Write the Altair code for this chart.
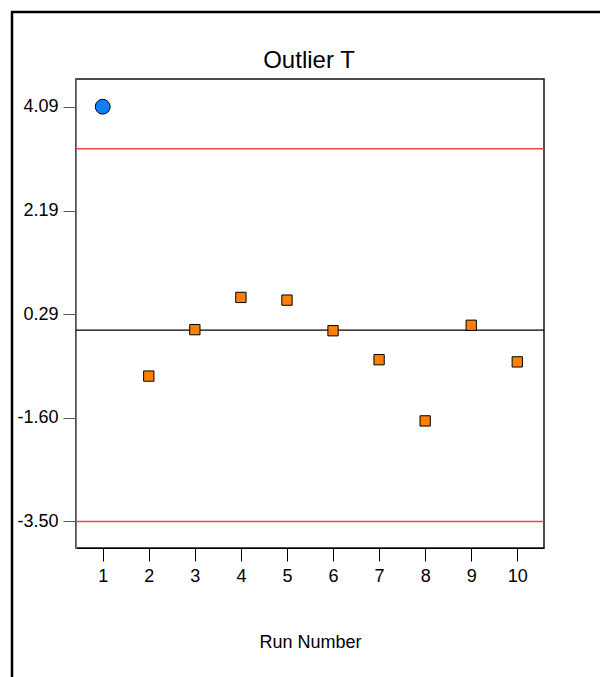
import altair as alt
import pandas as pd

runs = [1, 2, 3, 4, 5, 6, 7, 8, 9, 10]
outlier_t = [4.09, -0.84, 0.01, 0.60, 0.55, -0.01, -0.54, -1.66, 0.09, -0.58]
kind = ["outlier", "normal", "normal", "normal", "normal", "normal", "normal", "normal", "normal", "normal"]
y_ticks = [4.09, 2.19, 0.29, -1.60, -3.50]
x_ticks = [1, 2, 3, 4, 5, 6, 7, 8, 9, 10]
limits = [3.32, -3.50]
center = [0.0]
title_text = ["Outlier T"]

FONT = "Liberation Sans"

df = pd.DataFrame({"run": runs, "t": outlier_t, "kind": kind})
lim_df = pd.DataFrame({"v": limits})
cen_df = pd.DataFrame({"v": center})

xscale = alt.Scale(domain=[0.42, 10.58], nice=False, zero=False)
yscale = alt.Scale(domain=[-3.986, 4.597], nice=False, zero=False)

xaxis = alt.Axis(values=x_ticks, title="Run Number", grid=False, tickSize=13,
                 tickColor="black", domainColor="black", labelFontSize=18,
                 labelFont=FONT, titleFont=FONT, titleFontSize=18,
                 titleFontWeight="normal", labelPadding=6, titlePadding=48,
                 labelColor="black", titleColor="black", labelFlush=False)
yaxis = alt.Axis(values=y_ticks, title=None, grid=False, tickSize=13,
                 labelExpr="(datum.value < 0 ? '-' : '') + format(abs(datum.value), '.2f')",
                 tickColor="#555555", domainColor="#808080", labelFontSize=18,
                 labelFont=FONT, labelPadding=5, labelColor="black", labelFlush=False)

base = alt.Chart(df)

one = pd.DataFrame({"a": [0]})
frame_top = alt.Chart(one).mark_rule(color="black", strokeWidth=2.5).encode(
    x=alt.value(-65), x2=alt.value(530), y=alt.value(-67)
)
frame_left = alt.Chart(one).mark_rule(color="black", strokeWidth=2.5).encode(
    x=alt.value(-64), y=alt.value(-68), y2=alt.value(620)
)

title_mark = alt.Chart(pd.DataFrame({"label": title_text})).mark_text(
    font=FONT, fontSize=24, color="black", align="center", baseline="alphabetic"
).encode(x=alt.value(233), y=alt.value(-11), text="label:N")

limit_rules = alt.Chart(lim_df).mark_rule(color="#F04545", strokeWidth=1.5).encode(
    y=alt.Y("v:Q", scale=yscale, axis=yaxis)
)
center_rule = alt.Chart(cen_df).mark_rule(color="black", strokeWidth=1.2).encode(
    y=alt.Y("v:Q", scale=yscale)
)

points = base.mark_point(filled=True, stroke="black", strokeWidth=1, opacity=1).encode(
    x=alt.X("run:Q", scale=xscale, axis=xaxis),
    y=alt.Y("t:Q", scale=yscale, axis=yaxis),
    shape=alt.Shape("kind:N", scale=alt.Scale(domain=["outlier", "normal"], range=["circle", "square"]), legend=None),
    color=alt.Color("kind:N", scale=alt.Scale(domain=["outlier", "normal"], range=["#0A80FF", "#FF8000"]), legend=None),
    size=alt.Size("kind:N", scale=alt.Scale(domain=["outlier", "normal"], range=[220, 106]), legend=None),
)

chart = alt.layer(frame_top, frame_left, title_mark, limit_rules, center_rule, points).properties(
    width=468,
    height=469,
    padding={"left": 76, "top": 79, "right": 56, "bottom": 129},
    autosize=alt.AutoSizeParams(type="none"),
    view=alt.ViewBackground(stroke="#111111", strokeWidth=1.5),
).configure_view(
    stroke="#111111", strokeWidth=1.5
).configure(background="white")

chart.save("out.html", embed_options={"renderer": "svg", "actions": False})
